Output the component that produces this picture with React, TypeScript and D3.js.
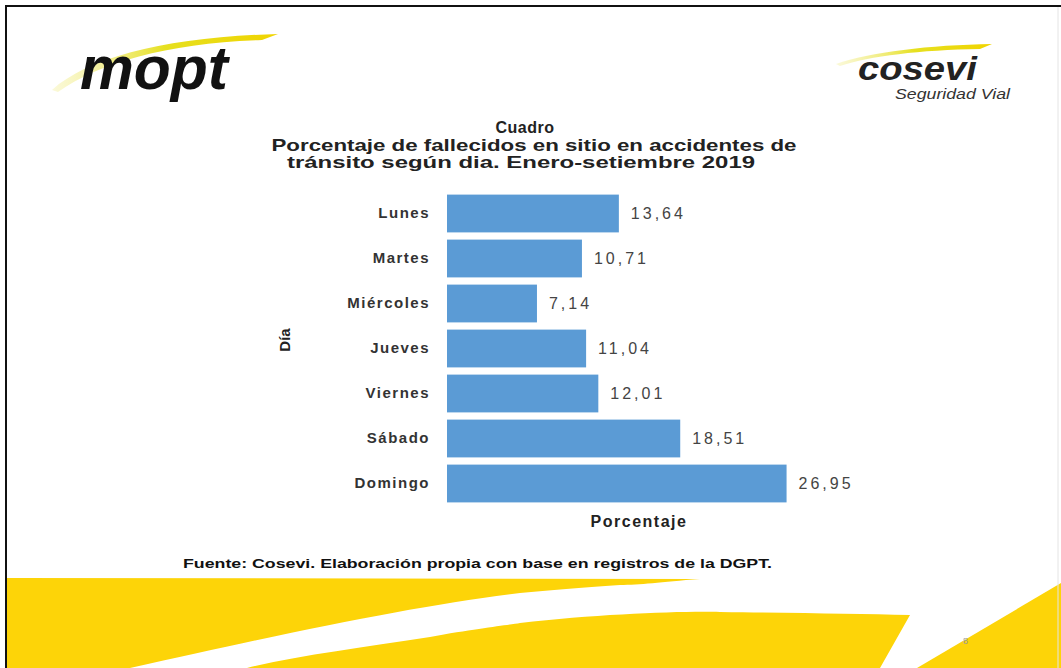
import React from "react";
import * as d3 from "d3";

const days = ["Lunes", "Martes", "Miércoles", "Jueves", "Viernes", "Sábado", "Domingo"];
const percentages = [13.64, 10.71, 7.14, 11.04, 12.01, 18.51, 26.95];
const valueLabels = ["13,64", "10,71", "7,14", "11,04", "12,01", "18,51", "26,95"];

const titleLines = [
  "Cuadro",
  "Porcentaje de fallecidos en sitio en accidentes de",
  "tránsito según dia. Enero-setiembre 2019",
];
const xAxisTitle = "Porcentaje";
const yAxisTitle = "Día";
const sourceText = "Fuente: Cosevi. Elaboración propia con base en registros de la DGPT.";

const W = 1061;
const H = 668;
const FONT = "'Liberation Sans', Arial, Helvetica, sans-serif";
const BAR = "#5B9BD5";
const YELLOW = "#FDD408";

export default function App() {
  const x = d3.scaleLinear().domain([0, 28]).range([447, 447 + 28 * 12.6]);
  const y = d3
    .scaleBand<string>()
    .domain(days)
    .range([191, 191 + 7 * 45])
    .paddingInner(0.16)
    .paddingOuter(0.08);

  return (
    <svg
      width={W}
      height={H}
      viewBox={`0 0 ${W} ${H}`}
      style={{ position: "absolute", left: 0, top: 0, background: "#fff" }}
      fontFamily={FONT}
    >
      <defs>
        <linearGradient id="swoosh1" x1="0" x2="1" y1="0" y2="0">
          <stop offset="0" stopColor="#f4f0a0" stopOpacity="0.4" />
          <stop offset="0.5" stopColor="#e6e020" />
          <stop offset="1" stopColor="#f0d400" />
        </linearGradient>
      </defs>
      <rect x={0} y={0} width={W} height={H} fill="#fff" />

      {/* bottom yellow decoration */}
      <path
        d="M7 578 L700 579 C660 582 640 585 620 585 C580 588 550 590 520 593 C420 605 300 630 130 668 L7 668 Z"
        fill={YELLOW}
      />
      <path
        d="M247 668 C300 655 360 648 430 637 C480 628 510 625 520 623 C600 614 680 611 720 612 C800 613 860 614 910 615 L880 668 Z"
        fill={YELLOW}
      />
      <path d="M917 668 L1061 583 L1061 668 Z" fill={YELLOW} />
      <text x={963} y={644} fontSize={9} fill="#999">8</text>

      {/* frame */}
      <line x1={6} y1={6} x2={W} y2={6} stroke="#111" strokeWidth={2} />
      <line x1={6} y1={5} x2={6} y2={H} stroke="#111" strokeWidth={2} />
      <line x1={1058} y1={7} x2={1058} y2={H} stroke="#e4e4e4" strokeWidth={1} />

      {/* mopt logo */}
      <path
        d="M52 90 C90 56 170 37 278 34 L262 40 C170 43 100 62 58 92 Z"
        fill="url(#swoosh1)"
      />
      <text
        x={80}
        y={89}
        fontSize={62}
        fontWeight={900}
        fontStyle="italic"
        fill="#111"
        textLength={148}
        lengthAdjust="spacingAndGlyphs"
      >
        mopt
      </text>

      {/* cosevi logo */}
      <path
        d="M836 64 C870 52 930 45 992 44 L980 49 C920 50 870 56 840 66 Z"
        fill="url(#swoosh1)"
      />
      <text
        x={858}
        y={80}
        fontSize={34}
        fontWeight={700}
        fontStyle="italic"
        fill="#222"
        textLength={119}
        lengthAdjust="spacingAndGlyphs"
      >
        cosevi
      </text>
      <text
        x={895}
        y={99}
        fontSize={15}
        fontStyle="italic"
        fill="#333"
        textLength={115}
        lengthAdjust="spacingAndGlyphs"
      >
        Seguridad Vial
      </text>

      {/* title */}
      <text x={525} y={133} fontSize={16} fontWeight={700} fill="#222" textAnchor="middle" letterSpacing={0.5}>
        {titleLines[0]}
      </text>
      <text
        x={534}
        y={151}
        fontSize={16.5}
        fontWeight={700}
        fill="#222"
        textAnchor="middle"
        textLength={525}
        lengthAdjust="spacingAndGlyphs"
      >
        {titleLines[1]}
      </text>
      <text
        x={521}
        y={168}
        fontSize={16.5}
        fontWeight={700}
        fill="#222"
        textAnchor="middle"
        textLength={468}
        lengthAdjust="spacingAndGlyphs"
      >
        {titleLines[2]}
      </text>

      {/* bars */}
      {days.map((d, i) => (
        <g key={d}>
          <rect
            x={x(0)}
            y={y(d)}
            width={x(percentages[i]) - x(0)}
            height={y.bandwidth()}
            fill={BAR}
          />
          <text
            x={430}
            y={(y(d) as number) + y.bandwidth() / 2}
            dy="0.33em"
            textAnchor="end"
            fontSize={15}
            fontWeight={700}
            fill="#333"
            letterSpacing={1.5}
          >
            {d}
          </text>
          <text
            x={x(percentages[i]) + 12}
            y={(y(d) as number) + y.bandwidth() / 2}
            dy="0.33em"
            fontSize={16}
            fill="#444"
            letterSpacing={3}
          >
            {valueLabels[i]}
          </text>
        </g>
      ))}

      {/* axis titles */}
      <text x={639} y={527} textAnchor="middle" fontSize={16} fontWeight={700} fill="#222" letterSpacing={1.5}>
        {xAxisTitle}
      </text>
      <text
        transform="translate(290,340) rotate(-90)"
        textAnchor="middle"
        fontSize={15}
        fontWeight={700}
        fill="#222"
      >
        {yAxisTitle}
      </text>

      {/* source */}
      <text
        x={183}
        y={568}
        fontSize={13}
        fontWeight={700}
        fill="#111"
        textLength={589}
        lengthAdjust="spacingAndGlyphs"
      >
        {sourceText}
      </text>
    </svg>
  );
}
